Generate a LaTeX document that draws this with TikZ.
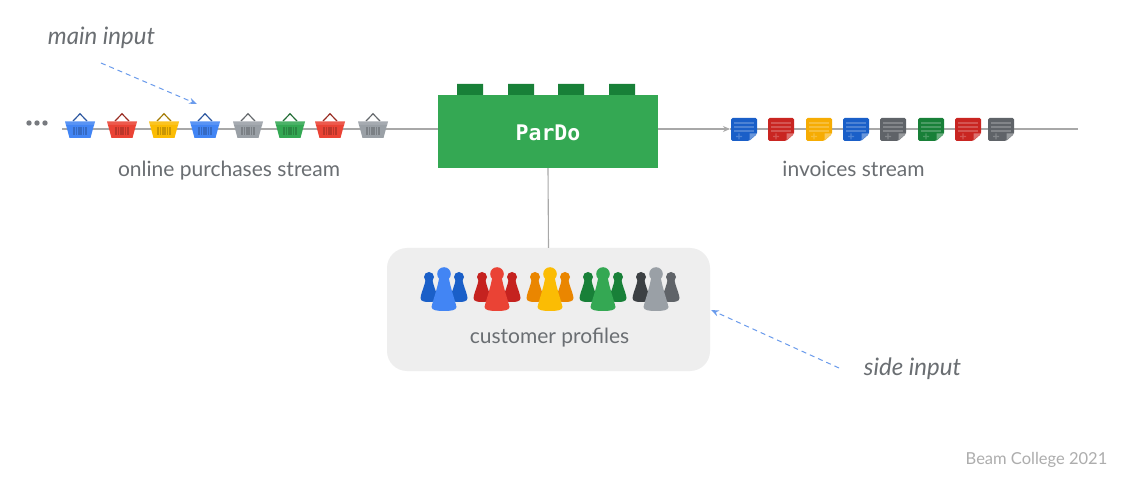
\documentclass[tikz,border=0pt]{standalone}
\usepackage{fontspec}
\setmainfont{Lato}
\newfontfamily\handfont{Lato Italic}
\newfontfamily\codefont{DejaVu Sans Mono Bold}
\usetikzlibrary{arrows.meta}
\definecolor{txt}{HTML}{6A6E72}
\definecolor{wire}{HTML}{A8A8A8}
\definecolor{note}{HTML}{6A9BEC}
\definecolor{gA}{HTML}{34A853}
\definecolor{gB}{HTML}{188038}
\definecolor{bA}{HTML}{4285F4}
\definecolor{bB}{HTML}{1A5FC8}
\definecolor{rA}{HTML}{EA4335}
\definecolor{rB}{HTML}{C5221F}
\definecolor{yA}{HTML}{FBBC04}
\definecolor{yB}{HTML}{EA8600}
\definecolor{kA}{HTML}{9AA0A6}
\definecolor{kB}{HTML}{5F6368}
\definecolor{kC}{HTML}{3C4043}
\tikzset{
  x=1pt,y=-1pt,
  wireline/.style={draw=wire,line width=1.1pt},
  notearrow/.style={draw=note,line width=1pt,dashed,dash pattern=on 5pt off 4pt,-{Stealth[length=8pt,width=6pt,fill=note]}},
  label/.style={text=txt,font=\fontsize{21}{25}\selectfont,inner sep=0pt,anchor=base},
  hand/.style={text=txt,font=\handfont\fontsize{24}{28}\selectfont,inner sep=0pt,anchor=base},
  basket/.pic={
    \draw[draw=#1!65!black,line width=1.2pt] (-7,8) -- (0,0.8) -- (7,8);
    \fill[#1!88!white] (-15,8.5) -- (15,8.5) -- (14,12.5) -- (-14,12.5) -- cycle;
    \fill[#1] (-14,12) -- (14,12) -- (10.5,25) -- (-10.5,25) -- cycle;
    \foreach \d in {-6,-3.6,-1.2,1.2,3.6,6}
      \fill[#1!80!black] (\d-0.8,14) rectangle (\d+0.8,22.5);
  },
  doc/.pic={
    \fill[#1,rounded corners=1.5pt] (0,0) -- (26,0) -- (26,16) -- (18,23) -- (0,23) -- cycle;
    \fill[#1!65!white] (26,15.5) -- (18.5,15.5) -- (18.5,22.5) -- cycle;
    \foreach \d in {5,9,13}
      \fill[white,opacity=.22] (3,\d-0.6) rectangle (23,\d+0.6);
    \fill[white,opacity=.22] (5,17.8) rectangle (11,19.2) (7.3,15.5) rectangle (8.7,21.5);
  },
}
\newcommand{\pawnshape}[5]{%
  \fill (#1,#2) circle (#3);
  \fill (#1-#3*0.6,#2) .. controls (#1-#5*0.5,#2+#3*2) and (#1-#5*0.85,#4-12) .. (#1-#5,#4-4)
     .. controls (#1-#5,#4-0.5) and (#1-#5*0.5,#4) .. (#1,#4)
     .. controls (#1+#5*0.5,#4) and (#1+#5,#4-0.5) .. (#1+#5,#4-4)
     .. controls (#1+#5*0.85,#4-12) and (#1+#5*0.5,#2+#3*2) .. (#1+#3*0.6,#2) -- cycle;
}
\newcommand{\pawngroup}[4]{%
  \begin{scope}[fill=#3]\pawnshape{#1-15}{277}{5}{302}{8.5}\end{scope}
  \begin{scope}[fill=#4]\pawnshape{#1+15}{277}{5}{302}{8.5}\end{scope}
  \begin{scope}[fill=#2]\pawnshape{#1}{274}{6.8}{311}{12.5}\end{scope}
}
\begin{document}
\begin{tikzpicture}
\useasboundingbox (0,0) rectangle (1136,481);
\fill[white] (0,0) rectangle (1136,481);

% free ends
\coordinate (mainstart) at (62,129);
\coordinate (outarrow) at (730,129);
\coordinate (outend) at (1078,129);
\coordinate (mainfrom) at (101,63);
\coordinate (mainto) at (197,104);
\coordinate (sidefrom) at (839,368);
\coordinate (sideto) at (711,310);

% customer box
\node[fill=black!6.5,rounded corners=20pt,minimum width=323pt,minimum height=123pt,inner sep=0pt] (profiles) at (548.5,309.5) {};

% block
\fill[gB] (457,84) rectangle (483,96) (508,84) rectangle (534,96) (558,84) rectangle (584,96) (609,84) rectangle (635,96);
\node[fill=gA,minimum width=220pt,minimum height=73pt,inner sep=0pt,text=white,font=\codefont\fontsize{21.5}{26}\selectfont] (pardo) at (548,131.5) {\raisebox{-9.5pt}[0pt][0pt]{ParDo}};

% wires
\draw[wireline] (mainstart) -- (pardo.west |- mainstart);
\draw[wireline,-{Stealth[length=7pt,width=6pt]}] (pardo.east |- outarrow) -- (outarrow);
\draw[wireline] (outarrow) -- (outend);
\draw[wireline] (pardo.south) -- (profiles.north);

% dots
\fill[kB!85!white] (29,123) circle (2.7) (37,123) circle (2.7) (45,123) circle (2.7);

% baskets
\pic at (80,113) {basket=bA};
\pic at (122,113) {basket=rA};
\pic at (164,113) {basket=yA};
\pic at (205,113) {basket=bA};
\pic at (248,113) {basket=kA};
\pic at (290,113) {basket=gA};
\pic at (330,113) {basket=rA};
\pic at (373,113) {basket=kA};

% documents
\pic at (731,118) {doc=bB};
\pic at (768,118) {doc=rB!90!rA};
\pic at (806,118) {doc=yA!70!yB};
\pic at (843,118) {doc=bB};
\pic at (880,118) {doc=kB};
\pic at (918,118) {doc=gB};
\pic at (955,118) {doc=rB!90!rA};
\pic at (988,118) {doc=kB};

% pawns
\pawngroup{444}{bA}{bB}{bB}
\pawngroup{497}{rA}{rB}{rB}
\pawngroup{550}{yA}{yB}{yB}
\pawngroup{603}{gA}{gB}{gB}
\pawngroup{656}{kA}{kC}{kB}

% labels
\node[label] (online) at (229,176.5) {online purchases stream};
\node[label] (invoices) at (853.5,176.5) {invoices stream};
\node[label] (customer) at (549.5,343.5) {customer profiles};
\node[hand] (mainlabel) at (101.5,45) {main input};
\node[hand] (sidelabel) at (912.5,375) {side input};
\node[inner sep=0pt,text=black!32,font=\fontsize{16.5}{20}\selectfont] (credit) at (1036.5,460) {Beam College 2021};

% annotations
\draw[notearrow] (mainfrom) -- (mainto);
\draw[notearrow] (sidefrom) -- (sideto);
\end{tikzpicture}
\end{document}
